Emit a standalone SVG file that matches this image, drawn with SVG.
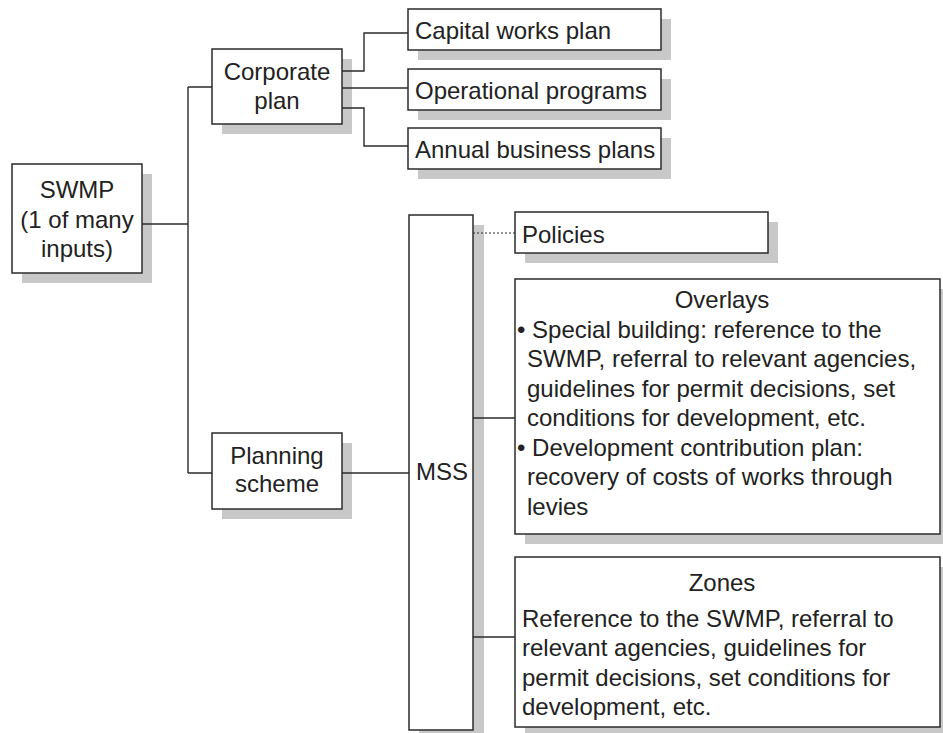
<svg xmlns="http://www.w3.org/2000/svg" width="943" height="733" viewBox="0 0 943 733">
<style>
.sh{fill:#c8c8c8}
.bx{fill:#fff;stroke:#2b2b2b;stroke-width:1.5}
.t{font-family:"Liberation Sans",Arial,sans-serif;font-size:24px;fill:#222}
.c{text-anchor:middle}
.ln{fill:none;stroke:#2b2b2b;stroke-width:1.4}
.dot{fill:none;stroke:#2b2b2b;stroke-width:1.2;stroke-dasharray:2 2}
</style>
<rect width="943" height="733" fill="#fff"/>
<g id="swmp">
<rect class="sh" x="22" y="174" width="130" height="109"/>
<rect class="bx" x="12" y="164" width="130" height="109"/>
<text class="t c" x="77" y="198">SWMP</text>
<text class="t c" x="77" y="228">(1 of many</text>
<text class="t c" x="77" y="257">inputs)</text>
</g>
<g id="corporate">
<rect class="sh" x="222" y="59" width="130" height="75"/>
<rect class="bx" x="212" y="49" width="130" height="75"/>
<text class="t c" x="277" y="80">Corporate</text>
<text class="t c" x="277" y="109">plan</text>
</g>
<g id="capital">
<rect class="sh" x="418" y="19" width="253" height="41"/>
<rect class="bx" x="408" y="9" width="253" height="41"/>
<text class="t" x="415" y="39">Capital works plan</text>
</g>
<g id="operational">
<rect class="sh" x="418" y="79" width="253" height="41"/>
<rect class="bx" x="408" y="69" width="253" height="41"/>
<text class="t" x="415" y="99">Operational programs</text>
</g>
<g id="annual">
<rect class="sh" x="418" y="138" width="253" height="41"/>
<rect class="bx" x="408" y="128" width="253" height="41"/>
<text class="t" x="415" y="158">Annual business plans</text>
</g>
<g id="planning">
<rect class="sh" x="222" y="443" width="130" height="76"/>
<rect class="bx" x="212" y="433" width="130" height="76"/>
<text class="t c" x="277" y="464">Planning</text>
<text class="t c" x="277" y="492">scheme</text>
</g>
<g id="mss">
<rect class="sh" x="419" y="225" width="65" height="515"/>
<rect class="bx" x="409" y="215" width="64" height="515"/>
<text class="t" x="416" y="480">MSS</text>
</g>
<g id="policies">
<rect class="sh" x="525" y="222" width="253" height="41"/>
<rect class="bx" x="515" y="212" width="253" height="41"/>
<text class="t" x="522" y="243">Policies</text>
</g>
<g id="overlays">
<rect class="sh" x="525" y="289" width="426" height="255"/>
<rect class="bx" x="515" y="279" width="425" height="255"/>
<text class="t c" x="722" y="308">Overlays</text>
<text class="t" x="517" y="338">• Special building: reference to the</text>
<text class="t" x="527" y="367">SWMP, referral to relevant agencies,</text>
<text class="t" x="527" y="397">guidelines for permit decisions, set</text>
<text class="t" x="527" y="426">conditions for development, etc.</text>
<text class="t" x="517" y="456">• Development contribution plan:</text>
<text class="t" x="527" y="485">recovery of costs of works through</text>
<text class="t" x="527" y="515">levies</text>
</g>
<g id="zones">
<rect class="sh" x="525" y="567" width="426" height="170"/>
<rect class="bx" x="515" y="557" width="425" height="170"/>
<text class="t c" x="722" y="591">Zones</text>
<text class="t" x="522" y="627">Reference to the SWMP, referral to</text>
<text class="t" x="522" y="656">relevant agencies, guidelines for</text>
<text class="t" x="522" y="686">permit decisions, set conditions for</text>
<text class="t" x="522" y="715">development, etc.</text>
</g>
<g id="connectors">
<path class="ln" d="M142 224H188M188 87V473M188 87H212M188 473H212"/>
<path class="ln" d="M342 71H364V33H408M342 88H408M342 108H364V146H408"/>
<path class="ln" d="M342 473H409"/>
<path class="dot" d="M473 233H515"/>
<path class="ln" d="M473 418H515M473 637H515"/>
</g>
</svg>
